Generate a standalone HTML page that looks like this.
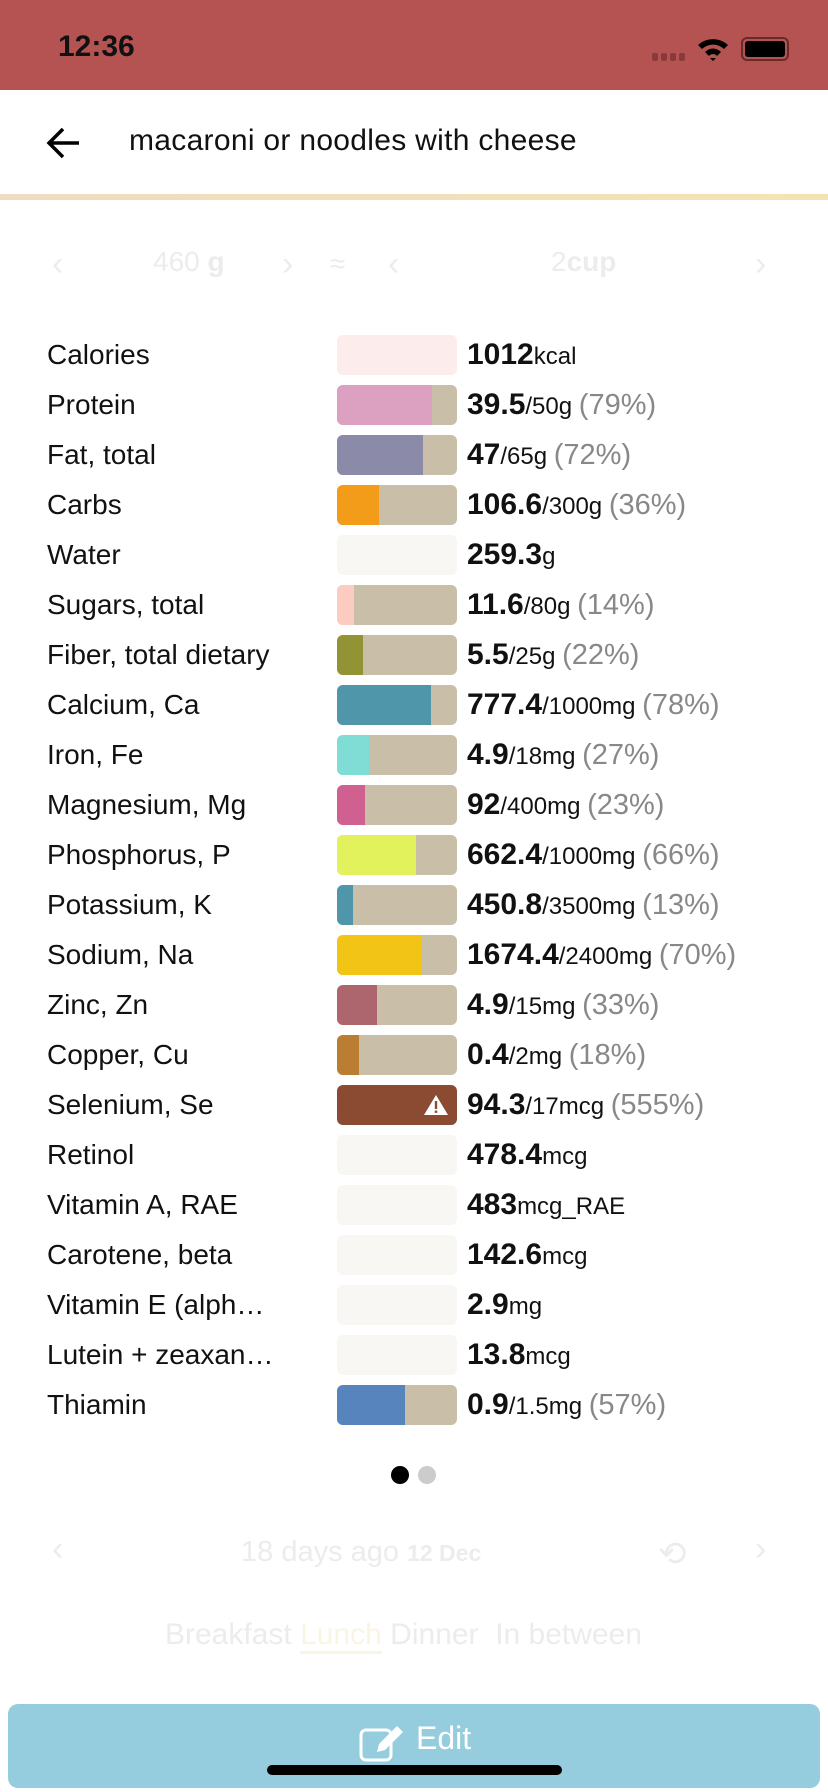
<!DOCTYPE html>
<html><head><meta charset="utf-8"><style>
*{margin:0;padding:0;box-sizing:border-box}
body{width:828px;height:1792px;position:relative;overflow:hidden;background:#fff;font-family:"Liberation Sans",sans-serif;color:#111}
.abs{position:absolute}
.lbl{position:absolute;left:47px;font-size:28px;white-space:nowrap;line-height:40px}
.bar{position:absolute;left:337px;width:120px;height:40px;border-radius:6px;overflow:hidden;background:#c9bfa8}
.bar i{position:absolute;left:0;top:0;bottom:0;display:block}
.val{position:absolute;left:467px;line-height:40px;white-space:nowrap;font-size:24px}
.val b{font-size:30px}
.val .p{color:#888;font-size:29px}
.faint{color:#ececec}
</style></head><body>
<div class="abs" style="left:0;top:0;width:828px;height:90px;background:#b55353"></div>
<div class="abs" style="left:58px;top:30px;font-size:30px;font-weight:bold;color:#111">12:36</div>
<div class="abs" style="left:652px;top:53px;width:6px;height:8px;background:#8a3a3a;border-radius:2px"></div>
<div class="abs" style="left:661px;top:53px;width:6px;height:8px;background:#8a3a3a;border-radius:2px"></div>
<div class="abs" style="left:670px;top:53px;width:6px;height:8px;background:#8a3a3a;border-radius:2px"></div>
<div class="abs" style="left:679px;top:53px;width:6px;height:8px;background:#8a3a3a;border-radius:2px"></div>
<svg class="abs" style="left:696px;top:36px" width="34" height="26" viewBox="0 0 34 26"><path d="M2 9 A22 22 0 0 1 32 9 L28 13 A16 16 0 0 0 6 13Z M9 16 A11 11 0 0 1 25 16 L21 20 A5 5 0 0 0 13 20Z M14 22 L17 25 L20 22Z" fill="#000"/></svg>
<div class="abs" style="left:741px;top:37px;width:48px;height:24px;border:2px solid #6a2a2a;border-radius:6px;padding:2px"><div style="background:#000;width:100%;height:100%;border-radius:3px"></div></div>
<svg class="abs" style="left:46px;top:126px" width="36" height="34" viewBox="0 0 36 34"><path d="M33 17H4M17 3L3 17L17 31" stroke="#000" stroke-width="3.5" fill="none"/></svg>
<div class="abs" style="left:129px;top:124px;font-size:30px;color:#111;letter-spacing:0.3px">macaroni or noodles with cheese</div>
<div class="abs" style="left:0;top:194px;width:828px;height:6px;background:linear-gradient(90deg,#f0dcc0,#f5e2b4)"></div>
<div class="abs faint" style="left:52px;top:245px;font-size:34px">‹</div>
<div class="abs faint" style="left:153px;top:246px;font-size:28px">460 <b>g</b></div>
<div class="abs faint" style="left:282px;top:245px;font-size:34px">›</div>
<div class="abs faint" style="left:330px;top:248px;font-size:28px">≈</div>
<div class="abs faint" style="left:388px;top:245px;font-size:34px">‹</div>
<div class="abs faint" style="left:551px;top:246px;font-size:28px">2<b>cup</b></div>
<div class="abs faint" style="left:755px;top:245px;font-size:34px">›</div>

<div class="lbl" style="top:335px">Calories</div><div class="bar" style="top:335px;background:#fcecec"></div><div class="val" style="top:335px"><b>1012</b>kcal</div>
<div class="lbl" style="top:385px">Protein</div><div class="bar" style="top:385px"><i style="width:79%;background:#dca0c0"></i></div><div class="val" style="top:385px"><b>39.5</b>/50g <span class="p">(79%)</span></div>
<div class="lbl" style="top:435px">Fat, total</div><div class="bar" style="top:435px"><i style="width:72%;background:#8b8aa8"></i></div><div class="val" style="top:435px"><b>47</b>/65g <span class="p">(72%)</span></div>
<div class="lbl" style="top:485px">Carbs</div><div class="bar" style="top:485px"><i style="width:35%;background:#f39c1a"></i></div><div class="val" style="top:485px"><b>106.6</b>/300g <span class="p">(36%)</span></div>
<div class="lbl" style="top:535px">Water</div><div class="bar" style="top:535px;background:#f8f7f4"></div><div class="val" style="top:535px"><b>259.3</b>g</div>
<div class="lbl" style="top:585px">Sugars, total</div><div class="bar" style="top:585px"><i style="width:14%;background:#fcccc0"></i></div><div class="val" style="top:585px"><b>11.6</b>/80g <span class="p">(14%)</span></div>
<div class="lbl" style="top:635px">Fiber, total dietary</div><div class="bar" style="top:635px"><i style="width:22%;background:#929335"></i></div><div class="val" style="top:635px"><b>5.5</b>/25g <span class="p">(22%)</span></div>
<div class="lbl" style="top:685px">Calcium, Ca</div><div class="bar" style="top:685px"><i style="width:78%;background:#4f96ab"></i></div><div class="val" style="top:685px"><b>777.4</b>/1000mg <span class="p">(78%)</span></div>
<div class="lbl" style="top:735px">Iron, Fe</div><div class="bar" style="top:735px"><i style="width:27%;background:#80ddd6"></i></div><div class="val" style="top:735px"><b>4.9</b>/18mg <span class="p">(27%)</span></div>
<div class="lbl" style="top:785px">Magnesium, Mg</div><div class="bar" style="top:785px"><i style="width:23%;background:#d06090"></i></div><div class="val" style="top:785px"><b>92</b>/400mg <span class="p">(23%)</span></div>
<div class="lbl" style="top:835px">Phosphorus, P</div><div class="bar" style="top:835px"><i style="width:66%;background:#e1f25d"></i></div><div class="val" style="top:835px"><b>662.4</b>/1000mg <span class="p">(66%)</span></div>
<div class="lbl" style="top:885px">Potassium, K</div><div class="bar" style="top:885px"><i style="width:13%;background:#4f96ab"></i></div><div class="val" style="top:885px"><b>450.8</b>/3500mg <span class="p">(13%)</span></div>
<div class="lbl" style="top:935px">Sodium, Na</div><div class="bar" style="top:935px"><i style="width:70%;background:#f2c416"></i></div><div class="val" style="top:935px"><b>1674.4</b>/2400mg <span class="p">(70%)</span></div>
<div class="lbl" style="top:985px">Zinc, Zn</div><div class="bar" style="top:985px"><i style="width:33%;background:#ad666e"></i></div><div class="val" style="top:985px"><b>4.9</b>/15mg <span class="p">(33%)</span></div>
<div class="lbl" style="top:1035px">Copper, Cu</div><div class="bar" style="top:1035px"><i style="width:18%;background:#bb7d32"></i></div><div class="val" style="top:1035px"><b>0.4</b>/2mg <span class="p">(18%)</span></div>
<div class="lbl" style="top:1085px">Selenium, Se</div><div class="bar" style="top:1085px;background:#8b4a32"><svg style="position:absolute;right:8px;top:9px" width="26" height="22" viewBox="0 0 26 22"><path d="M13 1L25 21H1Z" fill="#fff"/><rect x="11.8" y="7" width="2.4" height="8" fill="#8b4a32"/><rect x="11.8" y="16.5" width="2.4" height="2.4" fill="#8b4a32"/></svg></div><div class="val" style="top:1085px"><b>94.3</b>/17mcg <span class="p">(555%)</span></div>
<div class="lbl" style="top:1135px">Retinol</div><div class="bar" style="top:1135px;background:#f8f7f4"></div><div class="val" style="top:1135px"><b>478.4</b>mcg</div>
<div class="lbl" style="top:1185px">Vitamin A, RAE</div><div class="bar" style="top:1185px;background:#f8f7f4"></div><div class="val" style="top:1185px"><b>483</b>mcg_RAE</div>
<div class="lbl" style="top:1235px">Carotene, beta</div><div class="bar" style="top:1235px;background:#f8f7f4"></div><div class="val" style="top:1235px"><b>142.6</b>mcg</div>
<div class="lbl" style="top:1285px">Vitamin E (alph…</div><div class="bar" style="top:1285px;background:#f8f7f4"></div><div class="val" style="top:1285px"><b>2.9</b>mg</div>
<div class="lbl" style="top:1335px">Lutein + zeaxan…</div><div class="bar" style="top:1335px;background:#f8f7f4"></div><div class="val" style="top:1335px"><b>13.8</b>mcg</div>
<div class="lbl" style="top:1385px">Thiamin</div><div class="bar" style="top:1385px"><i style="width:57%;background:#5884be"></i></div><div class="val" style="top:1385px"><b>0.9</b>/1.5mg <span class="p">(57%)</span></div>

<div class="abs" style="left:391px;top:1466px;width:18px;height:18px;border-radius:50%;background:#000"></div>
<div class="abs" style="left:418px;top:1466px;width:18px;height:18px;border-radius:50%;background:#ccc"></div>

<div class="abs faint" style="left:52px;top:1530px;font-size:34px">‹</div>
<div class="abs faint" style="left:241px;top:1536px;font-size:29px">18 days ago <b style="font-size:23px">12 Dec</b></div>
<div class="abs faint" style="left:658px;top:1534px;font-size:34px">⟲</div>
<div class="abs faint" style="left:755px;top:1530px;font-size:34px">›</div>
<div class="abs faint" style="left:165px;top:1618px;font-size:30px">Breakfast <span style="color:#faf4e4;border-bottom:3px solid #faf4e4">Lunch</span> Dinner&nbsp; In between</div>

<div class="abs" style="left:8px;top:1704px;width:812px;height:84px;background:#95cdde;border-radius:10px"></div>
<svg class="abs" style="left:359px;top:1724px" width="48" height="40" viewBox="0 0 48 40"><rect x="2" y="6" width="30" height="30" rx="5" fill="none" stroke="#fff" stroke-width="3"/><path d="M18 28L20 20L38 2L44 8L26 26Z" fill="#fff"/></svg>
<div class="abs" style="left:416px;top:1720px;font-size:32px;color:#fff">Edit</div>
<div class="abs" style="left:267px;top:1765px;width:295px;height:10px;border-radius:5px;background:#000"></div>
</body></html>
